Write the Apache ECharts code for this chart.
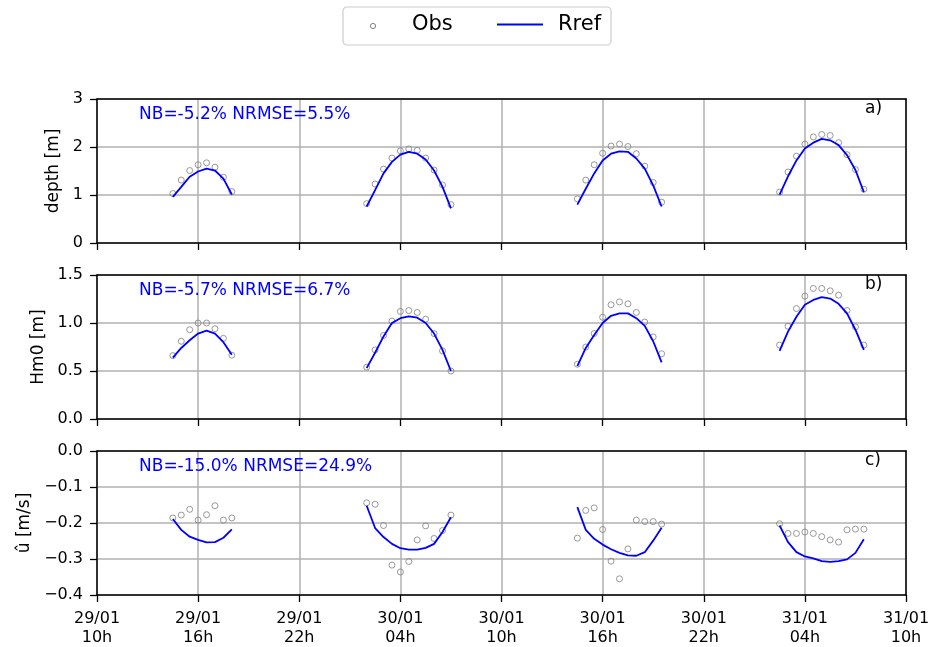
<!DOCTYPE html>
<html><head><meta charset="utf-8">
<script src="https://cdn.jsdelivr.net/npm/echarts@6/dist/echarts.min.js"></script>
<style>html,body{margin:0;padding:0;background:#fff}#c{width:940px;height:647px}</style>
</head><body><div id="c"></div>
<script>
// ---- data ----
const xTickLabels = ['29/01\n10h','29/01\n16h','29/01\n22h','30/01\n04h','30/01\n10h','30/01\n16h','30/01\n22h','31/01\n04h','31/01\n10h'];
const depthTicks = ['0','1','2','3'];
const hm0Ticks = ['0.0','0.5','1.0','1.5'];
const uTicks = ['0.0','\u22120.1','\u22120.2','\u22120.3','\u22120.4'];
const statsText = ['NB=-5.2% NRMSE=5.5%','NB=-5.7% NRMSE=6.7%','NB=-15.0% NRMSE=24.9%'];
const panelTags = ['a)','b)','c)'];
const yNames = ['depth [m]','Hm0 [m]','\u00fb [m/s]'];

const times = [
 '29/01 14:30','29/01 15:00','29/01 15:30','29/01 16:00','29/01 16:30','29/01 17:00','29/01 17:30','29/01 18:00',
 '30/01 02:00','30/01 02:30','30/01 03:00','30/01 03:30','30/01 04:00','30/01 04:30','30/01 05:00','30/01 05:30','30/01 06:00','30/01 06:30','30/01 07:00',
 '30/01 14:30','30/01 15:00','30/01 15:30','30/01 16:00','30/01 16:30','30/01 17:00','30/01 17:30','30/01 18:00','30/01 18:30','30/01 19:00','30/01 19:30',
 '31/01 02:30','31/01 03:00','31/01 03:30','31/01 04:00','31/01 04:30','31/01 05:00','31/01 05:30','31/01 06:00','31/01 06:30','31/01 07:00','31/01 07:30'
];
const depthObs = [
 1.03,1.31,1.51,1.63,1.67,1.58,1.37,1.07,
 0.82,1.23,1.54,1.77,1.92,1.96,1.93,1.77,1.52,1.21,0.80,
 0.92,1.31,1.63,1.87,2.02,2.06,2.01,1.86,1.60,1.26,0.85,
 1.06,1.48,1.81,2.06,2.21,2.26,2.24,2.09,1.84,1.53,1.12
];
const depthRef = [
 0.96,1.17,1.38,1.49,1.55,1.51,1.34,1.01,
 0.76,1.10,1.45,1.69,1.84,1.90,1.86,1.74,1.51,1.17,0.72,
 0.80,1.13,1.45,1.72,1.86,1.91,1.90,1.76,1.55,1.20,0.76,
 1.01,1.39,1.72,1.97,2.09,2.17,2.14,2.04,1.83,1.52,1.06
];
const hm0Obs = [
 0.66,0.81,0.93,1.00,1.00,0.94,0.84,0.665,
 0.54,0.72,0.87,1.02,1.12,1.13,1.11,1.04,0.89,0.71,0.50,
 0.57,0.75,0.89,1.06,1.19,1.22,1.20,1.11,1.01,0.855,0.68,
 0.77,0.966,1.15,1.28,1.36,1.36,1.335,1.29,1.13,0.96,0.77
];
const hm0Ref = [
 0.64,0.74,0.82,0.89,0.92,0.89,0.80,0.67,
 0.53,0.69,0.86,1.00,1.05,1.07,1.055,1.00,0.89,0.72,0.50,
 0.55,0.74,0.875,1.00,1.075,1.10,1.10,1.05,0.97,0.81,0.59,
 0.71,0.91,1.065,1.19,1.24,1.27,1.255,1.20,1.10,0.93,0.72
];
const uObs = [
 -0.186,-0.178,-0.162,-0.192,-0.177,-0.152,-0.192,-0.186,
 -0.144,-0.148,-0.207,-0.317,-0.336,-0.307,-0.247,-0.208,-0.243,-0.221,-0.178,
 -0.242,-0.165,-0.158,-0.218,-0.306,-0.355,-0.272,-0.192,-0.196,-0.196,-0.203,
 -0.202,-0.229,-0.229,-0.225,-0.229,-0.238,-0.247,-0.253,-0.219,-0.217,-0.217
];
const uRef = [
 -0.189,-0.219,-0.238,-0.247,-0.254,-0.253,-0.241,-0.218,
 -0.152,-0.214,-0.239,-0.258,-0.270,-0.274,-0.274,-0.269,-0.258,-0.225,-0.184,
 -0.156,-0.219,-0.244,-0.260,-0.273,-0.283,-0.290,-0.291,-0.281,-0.249,-0.213,
 -0.207,-0.253,-0.281,-0.293,-0.298,-0.306,-0.308,-0.306,-0.301,-0.283,-0.245
];

// ---- helpers ----
function hoursFromStart(s){ // hours since 29/01 10:00
  const [d, hm] = s.split(' ');
  const day = parseInt(d.split('/')[0],10);
  const [h,m] = hm.split(':').map(Number);
  return (day-29)*24 + h + m/60 - 10;
}
const xs = times.map(hoursFromStart);
function segments(vals){
  const segs=[]; let cur=[];
  for(let i=0;i<xs.length;i++){
    if(i>0 && xs[i]-xs[i-1]>1){ segs.push(cur); cur=[]; }
    cur.push([xs[i], vals[i]]);
  }
  segs.push(cur); return segs;
}

const FONT = 'DejaVu Sans';
const gridTops = [99, 275, 451];
const gridH = 144;
const grids = gridTops.map(t=>({left:97, right:34, top:t, height:gridH, containLabel:false}));

const yConf = [
  {min:0,max:3,interval:1,fmt:v=>depthTicks[Math.round(v)]},
  {min:0,max:1.5,interval:0.5,fmt:v=>hm0Ticks[Math.round(v/0.5)]},
  {min:-0.4,max:0,interval:0.1,fmt:v=>uTicks[Math.round(-v/0.1)]}
];

const xAxes=[], yAxes=[], series=[];
for(let i=0;i<3;i++){
  xAxes.push({type:'value',gridIndex:i,min:0,max:48,interval:6,position:'bottom',
    axisLine:{show:true,onZero:false,lineStyle:{color:'#000',width:1.5}},
    axisTick:{show:true,length:7,lineStyle:{color:'#000',width:1.3}},
    axisLabel:{show:i===2,color:'#000',fontSize:16,fontFamily:FONT,lineHeight:19,margin:14,
      formatter:v=>xTickLabels[Math.round(v/6)]},
    splitLine:{show:true,lineStyle:{color:'#b0b0b0',width:1.5}}});
  yAxes.push({type:'value',gridIndex:i,min:yConf[i].min,max:yConf[i].max,interval:yConf[i].interval,position:'left',
    name:yNames[i],nameLocation:'middle',nameGap:33,
    nameTextStyle:{color:'#000',fontSize:17,fontFamily:FONT},
    axisLine:{show:true,onZero:false,lineStyle:{color:'#000',width:1.5}},
    axisTick:{show:true,length:7,lineStyle:{color:'#000',width:1.3}},
    axisLabel:{color:'#000',fontSize:16,fontFamily:FONT,margin:14,formatter:yConf[i].fmt},
    splitLine:{show:true,lineStyle:{color:'#b0b0b0',width:1.5}}});
}
// frame spines (top / right)
for(let i=0;i<3;i++){
  xAxes.push({type:'value',gridIndex:i,min:0,max:48,position:'top',
    axisLine:{show:true,onZero:false,lineStyle:{color:'#000',width:1.5}},
    axisTick:{show:false},axisLabel:{show:false},splitLine:{show:false}});
  yAxes.push({type:'value',gridIndex:i,min:yConf[i].min,max:yConf[i].max,position:'right',
    axisLine:{show:true,onZero:false,lineStyle:{color:'#000',width:1.5}},
    axisTick:{show:false},axisLabel:{show:false},splitLine:{show:false}});
}

const obsSets=[depthObs,hm0Obs,uObs], refSets=[depthRef,hm0Ref,uRef];
for(let i=0;i<3;i++){
  series.push({type:'scatter',name:'Obs',xAxisIndex:i,yAxisIndex:i,z:2,
    data:xs.map((x,k)=>[x,obsSets[i][k]]),symbol:'circle',symbolSize:6,
    itemStyle:{color:'rgba(0,0,0,0)',borderColor:'#808080',borderWidth:1},silent:true});
  segments(refSets[i]).forEach(seg=>{
    series.push({type:'line',name:'Rref',xAxisIndex:i,yAxisIndex:i,z:3,data:seg,
      symbol:'none',lineStyle:{color:'#0000ff',width:1.8},silent:true});
  });
}

const graphic=[
  {type:'rect',shape:{x:343,y:7,width:268,height:38,r:4},style:{fill:'#fff',stroke:'#cccccc',lineWidth:1.2},z:10},
  {type:'circle',shape:{cx:373,cy:26,r:2.6},style:{fill:'none',stroke:'#808080',lineWidth:1},z:11},
  {type:'text',style:{text:'Obs',x:412,y:25,font:'21px "DejaVu Sans"',fill:'#000',textVerticalAlign:'middle'},z:11},
  {type:'line',shape:{x1:497,y1:24.5,x2:543,y2:24.5},style:{stroke:'#0000ff',lineWidth:1.8},z:11},
  {type:'text',style:{text:'Rref',x:558,y:25,font:'21px "DejaVu Sans"',fill:'#000',textVerticalAlign:'middle'},z:11}
];
const statY=[115,291,467], tagY=[109,285,461];
for(let i=0;i<3;i++){
  graphic.push({type:'text',style:{text:statsText[i],x:139,y:statY[i],font:'17px "DejaVu Sans"',fill:'#0000ff',textVerticalAlign:'middle'},z:11});
  graphic.push({type:'text',style:{text:panelTags[i],x:865,y:tagY[i],font:'17px "DejaVu Sans"',fill:'#000',textVerticalAlign:'middle'},z:11});
}

const chart = echarts.init(document.getElementById('c'),null,{renderer:'canvas'});
chart.setOption({animation:false,backgroundColor:'#fff',grid:grids,xAxis:xAxes,yAxis:yAxes,series:series,graphic:graphic});
</script></body></html>
